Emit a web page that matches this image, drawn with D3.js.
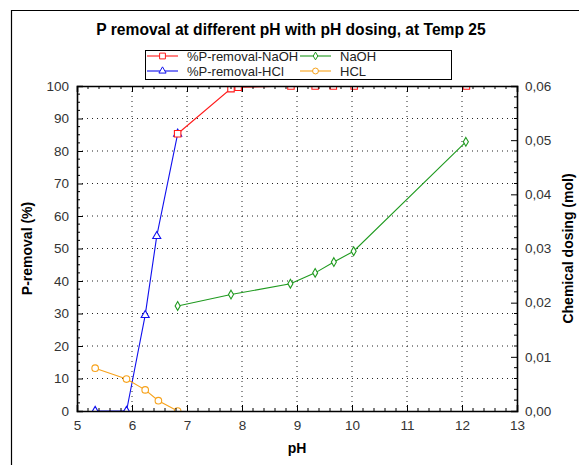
<!DOCTYPE html>
<html>
<head>
<meta charset="utf-8">
<script src="https://cdn.jsdelivr.net/npm/d3@7"></script>
<style>
  body { margin: 0; background: #fff; }
  svg { font-family: "Liberation Sans", Arial, sans-serif; }
</style>
</head>
<body>
<svg id="chart" width="579" height="465"></svg>
<script>
// data
let removalNaOH_pH = [6.83, 7.8, 7.93, 8.89, 9.33, 9.66, 10.04, 12.08];
let removalNaOH = [85.3, 99.2, 99.6, 100, 100, 100, 100, 100];
let removalHCl_pH = [5.33, 5.9, 6.24, 6.45, 6.83];
let removalHCl = [0, 0, 29.5, 53.8, 85.3];
let naoh_pH = [6.83, 7.8, 8.88, 9.33, 9.67, 10.03, 12.07];
let naohDose = [0.0194, 0.0215, 0.0235, 0.0255, 0.0275, 0.0295, 0.0497];
let hcl_pH = [5.33, 5.9, 6.24, 6.48, 6.83];
let hclDose = [0.0079, 0.0059, 0.0039, 0.0019, 0.0];
let xTicks = [5, 6, 7, 8, 9, 10, 11, 12, 13];
let yTicks = [0, 10, 20, 30, 40, 50, 60, 70, 80, 90, 100];
let y2Ticks = [0, 0.01, 0.02, 0.03, 0.04, 0.05, 0.06];

let margin = { top: 86, right: 62, bottom: 54, left: 77 };
let width = 579 - margin.left - margin.right;
let height = 465 - margin.top - margin.bottom;

let x = d3.scaleLinear().domain([5, 13]).range([0, width]);
let y = d3.scaleLinear().domain([0, 100]).range([height, 0]);
let y2 = d3.scaleLinear().domain([0, 0.06]).range([height, 0]);

let svg = d3.select("#chart");

svg.append("defs").append("clipPath").attr("id", "plotclip")
  .append("rect").attr("x", 0).attr("y", 0).attr("width", width).attr("height", height);

// outer frame
svg.append("path")
  .attr("d", "M11.5,465V10.5H579")
  .attr("fill", "none")
  .attr("stroke", "#000")
  .attr("stroke-width", 1.2);

svg.append("text")
  .attr("x", 291).attr("y", 35)
  .attr("text-anchor", "middle")
  .attr("font-size", 15.6).attr("font-weight", "bold")
  .text("P removal at different pH with pH dosing, at Temp 25");

let g = svg.append("g")
  .attr("transform", "translate(" + margin.left + "," + margin.top + ")");

// grid
g.append("g").selectAll("line")
  .data(xTicks.slice(1, -1))
  .join("line")
  .attr("x1", d => x(d)).attr("x2", d => x(d))
  .attr("y1", 0).attr("y2", height)
  .attr("stroke", "#222").attr("stroke-dasharray", "1,4");
g.append("g").selectAll("line")
  .data(yTicks.slice(1, -1))
  .join("line")
  .attr("x1", 0).attr("x2", width)
  .attr("y1", d => y(d)).attr("y2", d => y(d))
  .attr("stroke", "#222").attr("stroke-dasharray", "1,4");

// minor tick helper
function minor(ticks, n) {
  let out = [];
  for (let i = 0; i < ticks.length - 1; i++) {
    let step = (ticks[i + 1] - ticks[i]) / n;
    for (let k = 1; k < n; k++) out.push(ticks[i] + k * step);
  }
  return out;
}

// series (legend order)
let series = [
  { name: "%P-removal-NaOH", xs: removalNaOH_pH, ys: removalNaOH, sy: y, color: "#ff1a1a", sym: d3.symbolSquare, size: 42 },
  { name: "%P-removal-HCl", xs: removalHCl_pH, ys: removalHCl, sy: y, color: "#1010ee", sym: d3.symbolTriangle, size: 28 },
  { name: "NaOH", xs: naoh_pH, ys: naohDose, sy: y2, color: "#1f9a1f", sym: d3.symbolDiamond, size: 22 },
  { name: "HCL", xs: hcl_pH, ys: hclDose, sy: y2, color: "#f7a21b", sym: d3.symbolCircle, size: 34 }
];

// draw order: blue under red
let drawOrder = [series[1], series[3], series[2], series[0]];
let plot = g.append("g").attr("clip-path", "url(#plotclip)");
let line = d3.line();
drawOrder.forEach(s => {
  let pts = s.xs.map((v, i) => [x(v), s.sy(s.ys[i])]);
  plot.append("path")
    .attr("d", line(pts))
    .attr("fill", "none").attr("stroke", s.color).attr("stroke-width", 1.1);
  plot.append("g").selectAll("path").data(pts).join("path")
    .attr("transform", d => "translate(" + d[0] + "," + d[1] + ")")
    .attr("d", d3.symbol(s.sym, s.size))
    .attr("fill", "#fff").attr("stroke", s.color).attr("stroke-width", 1.1);
});

// axes with inward ticks
let xAxis = d3.axisBottom(x).tickValues(xTicks).tickSize(-6).tickPadding(9).tickFormat(d3.format("d"));
let xTop = d3.axisTop(x).tickValues(xTicks).tickSize(-6).tickFormat("");
let yAxis = d3.axisLeft(y).tickValues(yTicks).tickSize(-6).tickPadding(8).tickFormat(d3.format("d"));
let y2Axis = d3.axisRight(y2).tickValues(y2Ticks).tickSize(-6).tickPadding(8)
  .tickFormat(d => d3.format(".2f")(d).replace(".", ","));

let ax = g.append("g").attr("transform", "translate(0," + height + ")").call(xAxis);
let axT = g.append("g").call(xTop);
let ay = g.append("g").call(yAxis);
let ay2 = g.append("g").attr("transform", "translate(" + width + ",0)").call(y2Axis);

// minor ticks
ax.append("g").selectAll("line").data(minor(xTicks, 5)).join("line")
  .attr("x1", d => x(d)).attr("x2", d => x(d)).attr("y1", 0).attr("y2", -3).attr("stroke", "#000");
axT.append("g").selectAll("line").data(minor(xTicks, 5)).join("line")
  .attr("x1", d => x(d)).attr("x2", d => x(d)).attr("y1", 0).attr("y2", 3).attr("stroke", "#000");
ay.append("g").selectAll("line").data(minor(yTicks, 4)).join("line")
  .attr("y1", d => y(d)).attr("y2", d => y(d)).attr("x1", 0).attr("x2", 3).attr("stroke", "#000");
ay2.append("g").selectAll("line").data(minor(y2Ticks, 5)).join("line")
  .attr("y1", d => y2(d)).attr("y2", d => y2(d)).attr("x1", 0).attr("x2", -3).attr("stroke", "#000");

[ax, axT, ay, ay2].forEach(a => {
  a.select(".domain").attr("stroke", "#000").attr("stroke-width", 1.6);
  a.selectAll("text").attr("font-size", 13.5).attr("fill", "#333")
    .attr("font-family", "Liberation Sans, Arial, sans-serif");
});

// axis titles
g.append("text")
  .attr("x", width / 2).attr("y", height + 42)
  .attr("text-anchor", "middle").attr("font-size", 14).attr("font-weight", "bold")
  .text("pH");
g.append("text")
  .attr("transform", "translate(-45," + (height / 2) + ") rotate(-90)")
  .attr("text-anchor", "middle").attr("font-size", 14).attr("font-weight", "bold")
  .text("P-removal (%)");
g.append("text")
  .attr("transform", "translate(" + (width + 56) + "," + (height / 2) + ") rotate(-90)")
  .attr("text-anchor", "middle").attr("font-size", 14).attr("font-weight", "bold")
  .text("Chemical dosing (mol)");

// legend
let leg = svg.append("g").attr("transform", "translate(145,50)");
leg.append("rect").attr("x", 0.5).attr("y", 0.5).attr("width", 306).attr("height", 29)
  .attr("fill", "#fff").attr("stroke", "#000").attr("stroke-width", 1);
series.forEach((s, i) => {
  let col = Math.floor(i / 2), row = i % 2;
  let lx = col === 0 ? 2 : 155;
  let ly = row === 0 ? 6 : 21;
  let e = leg.append("g").attr("transform", "translate(" + lx + "," + ly + ")");
  e.append("line").attr("x1", 0).attr("x2", 31).attr("stroke", s.color).attr("stroke-width", 1.1);
  e.append("path").attr("transform", "translate(15.5,0)")
    .attr("d", d3.symbol(s.sym, s.size * 0.8))
    .attr("fill", "#fff").attr("stroke", s.color);
  e.append("text").attr("x", 40).attr("y", 4.5).attr("font-size", 13).attr("fill", "#222")
    .text(s.name);
});
</script>
</body>
</html>
